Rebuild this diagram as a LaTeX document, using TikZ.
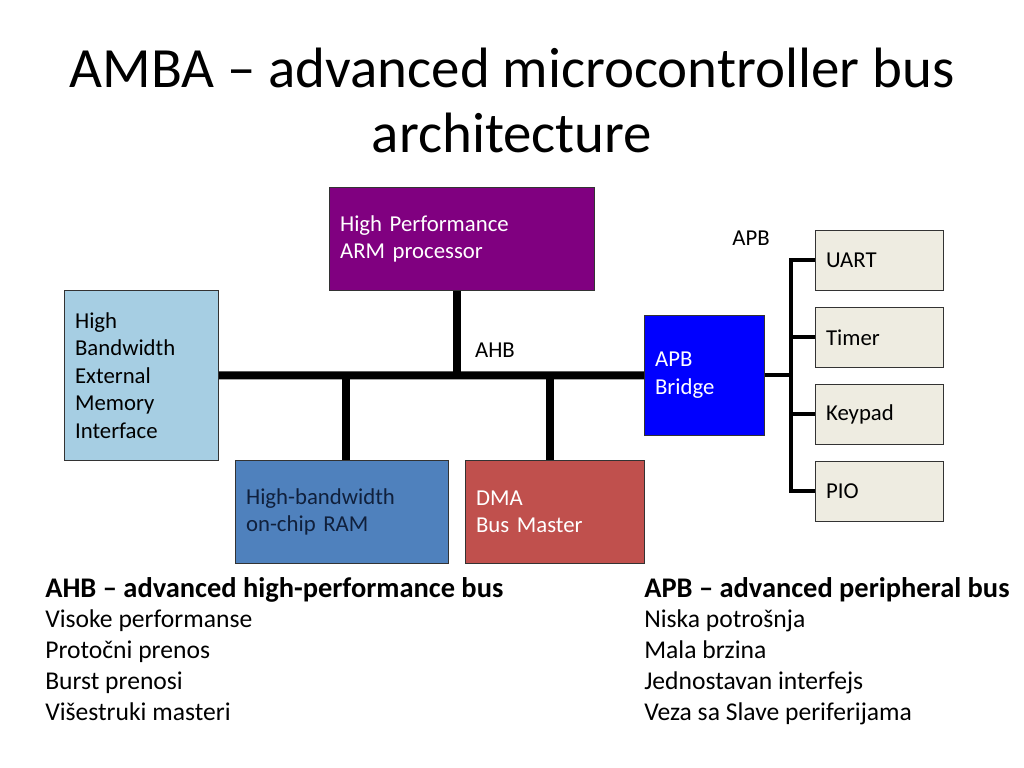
\documentclass[tikz,border=0pt]{standalone}
\usepackage{fontspec}
\setmainfont{Carlito}
\definecolor{armpurple}{RGB}{128,0,128}
\definecolor{memblue}{RGB}{166,206,227}
\definecolor{ramblue}{RGB}{79,129,189}
\definecolor{ramtext}{RGB}{16,32,60}
\definecolor{dmared}{RGB}{192,80,77}
\definecolor{bridgeblue}{RGB}{0,0,255}
\definecolor{pertan}{RGB}{238,236,225}

\begin{document}
\begin{tikzpicture}[x=0.703125pt,y=-0.703125pt,line join=miter,
  blk/.style={draw=black!80,line width=0.6pt,anchor=north west,inner xsep=7.5pt,inner ysep=0pt,align=left,font=\fontsize{16}{19.4}\selectfont},
  col/.style={anchor=north west,inner sep=0pt,align=left,font=\fontsize{18}{21.6}\selectfont},
  ahb/.style={line width=5.6pt},
  apb/.style={line width=2.8pt},
  ]
\useasboundingbox (0,0) rectangle (1024,768);
%%
\node (node_title) at (512,100.5) [align=center,font=\fontsize{40}{45.7}\selectfont] {AMBA -- advanced microcontroller bus\\architecture};
  \node (node_arm) at (329,187) [blk,fill=armpurple,text=white,minimum height=72.4pt,text width=171.3pt] {High Performance\\ARM processor};
  \node (node_mem) at (64,290) [blk,fill=memblue,minimum height=119.5pt,text width=93.3pt] {High\\Bandwidth\\External\\Memory\\Interface};
  \node (node_ram) at (235,460) [blk,fill=ramblue,text=ramtext,minimum height=72.4pt,text width=134.8pt] {High-bandwidth\\on-chip RAM};
  \node (node_dma) at (465,460) [blk,fill=dmared,text=white,minimum height=72.4pt,text width=110.9pt] {DMA\\Bus Master};
  \node (node_bridge) at (644,315) [blk,fill=bridgeblue,text=white,minimum height=84.4pt,text width=69.4pt] {APB\\Bridge};
  \node (node_uart) at (815,230) [blk,fill=pertan,minimum height=42.2pt,text width=75pt] {UART};
  \node (node_timer) at (815,307) [blk,fill=pertan,minimum height=42.2pt,text width=75pt] {Timer};
  \node (node_keypad) at (815,384) [blk,fill=pertan,minimum height=42.2pt,text width=75pt] {Keypad};
  \node (node_pio) at (815,461) [blk,fill=pertan,minimum height=42.2pt,text width=75pt] {PIO};
  \node (node_ahb) at (495,350) [font=\fontsize{16}{19.4}\selectfont] {AHB};
  \node (node_apb) at (751,238) [font=\fontsize{16}{19.4}\selectfont] {APB};
  \node (node_ahbtext) at (45,577) [col] {{\fontsize{20}{21.6}\selectfont\bfseries AHB -- advanced high-performance bus}\\Visoke performanse\\Protočni prenos\\Burst prenosi\\Višestruki masteri};
  \node (node_apbtext) at (644,577) [col] {{\fontsize{20}{21.6}\selectfont\bfseries APB -- advanced peripheral bus}\\Niska potrošnja\\Mala brzina\\Jednostavan interfejs\\Veza sa Slave periferijama};
  \coordinate (tap_arm) at (457,375);
  \coordinate (tap_ram) at (346,375);
  \coordinate (tap_dma) at (550,375);
  \coordinate (apb_x) at (791,375);
  \draw [black,ahb] (node_mem.east) -- (node_bridge.west);
  \draw [black,ahb] (node_arm.south -| tap_arm) -- (tap_arm);
  \draw [black,ahb] (tap_ram) -- (tap_ram |- node_ram.north);
  \draw [black,ahb] (tap_dma) -- (tap_dma |- node_dma.north);
  \draw [black,apb] (node_bridge.east) -- (node_bridge.east -| apb_x);
  \draw [black,apb] (node_uart.west) -- (node_uart.west -| apb_x) -- (node_pio.west -| apb_x) -- (node_pio.west);
  \draw [black,apb] (node_timer.west -| apb_x) -- (node_timer.west);
  \draw [black,apb] (node_keypad.west -| apb_x) -- (node_keypad.west);
%
\end{tikzpicture}
\end{document}
